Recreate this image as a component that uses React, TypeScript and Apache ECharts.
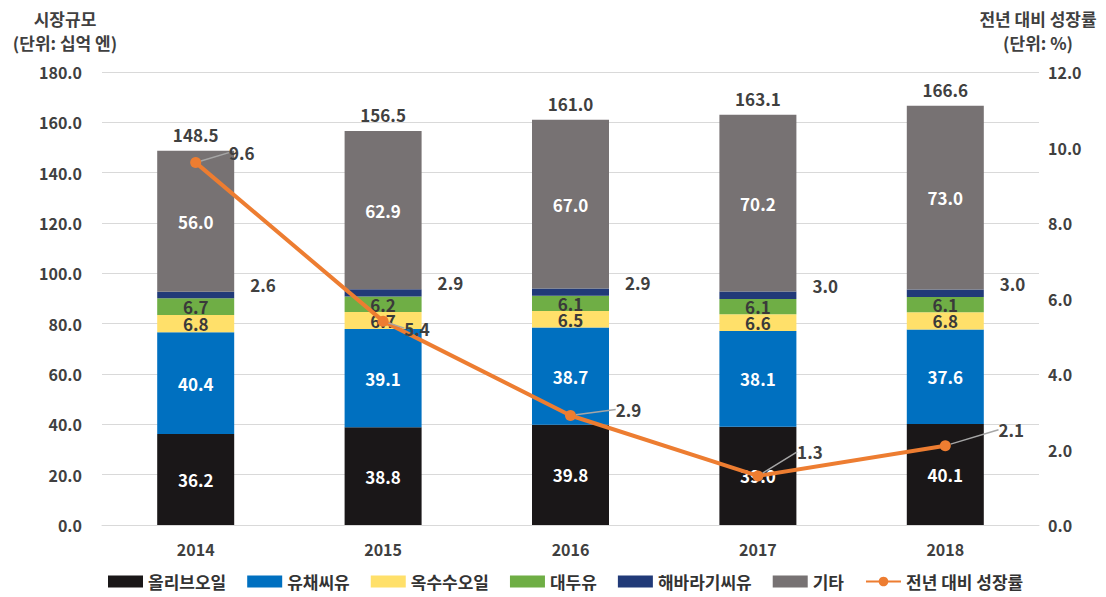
import React, { useEffect, useRef } from "react";
import * as echarts from "echarts";

const years = ["2014", "2015", "2016", "2017", "2018"];
const olive = [36.2, 38.8, 39.8, 39.0, 40.1];
const rapeseed = [40.4, 39.1, 38.7, 38.1, 37.6];
const corn = [6.8, 6.7, 6.5, 6.6, 6.8];
const soybean = [6.7, 6.2, 6.1, 6.1, 6.1];
const sunflower = [2.6, 2.9, 2.9, 3.0, 3.0];
const others = [56.0, 62.9, 67.0, 70.2, 73.0];
const totals = [148.5, 156.5, 161.0, 163.1, 166.6];
const growth = [9.6, 5.4, 2.9, 1.3, 2.1];

const leftTicks = { min: 0, max: 180, interval: 20 };
const rightTicks = { min: 0, max: 12, interval: 2 };

// label offsets (px) for growth-rate labels
const growthLabelShift = [
  [46, -10],
  [34, 7],
  [58, -6],
  [52, -24],
  [66, -16],
];

const FONT = "'Noto Sans CJK KR', 'Noto Sans', sans-serif";

export default function App() {
  const ref = useRef<HTMLDivElement>(null);
  useEffect(() => {
    if (!ref.current) return;
    const chart = echarts.init(ref.current, null, { renderer: "svg" });
    const segLabel = (color: string) => ({
      show: true,
      position: "inside",
      color,
      fontSize: 17,
      fontWeight: "bold",
      fontFamily: FONT,
      formatter: (p: any) => Number(p.value).toFixed(1),
    });
    const barBase = {
      type: "bar",
      stack: "total",
      barWidth: 77,
      yAxisIndex: 0,
    };
    const titleStyle = {
      fontSize: 17,
      fontWeight: "bold",
      color: "#404040",
      lineHeight: 24,
      fontFamily: FONT,
      align: "center",
    };
    chart.setOption({
      animation: false,
      textStyle: { fontFamily: FONT },
      title: [
        {
          text: "시장규모\n(단위: 십억 엔)",
          left: 65,
          top: 6,
          padding: 0,
          textAlign: "center",
          textStyle: titleStyle,
        },
        {
          text: "전년 대비 성장률\n(단위: %)",
          left: 1038,
          top: 6,
          padding: 0,
          textAlign: "center",
          textStyle: titleStyle,
        },
      ],
      grid: { left: 102, right: 67, top: 72, bottom: 72 },
      legend: {
        bottom: 2,
        left: 103,
        itemWidth: 35,
        itemHeight: 12,
        itemGap: 21,
        textStyle: {
          fontSize: 17,
          fontWeight: "bold",
          color: "#333",
          fontFamily: FONT,
        },
        data: [
          { name: "올리브오일", icon: "rect" },
          { name: "유채씨유", icon: "rect" },
          { name: "옥수수오일", icon: "rect" },
          { name: "대두유", icon: "rect" },
          { name: "해바라기씨유", icon: "rect" },
          { name: "기타", icon: "rect" },
          { name: "전년 대비 성장률" },
        ],
      },
      xAxis: {
        type: "category",
        data: years,
        axisLine: { lineStyle: { color: "#d9d9d9" } },
        axisTick: { show: false },
        axisLabel: {
          fontSize: 16,
          fontWeight: "bold",
          color: "#404040",
          margin: 16,
          fontFamily: FONT,
        },
      },
      yAxis: [
        {
          type: "value",
          ...leftTicks,
          axisLine: { show: false },
          axisTick: { show: false },
          splitLine: { lineStyle: { color: "#d9d9d9" } },
          axisLabel: {
            fontSize: 16,
            fontWeight: "bold",
            color: "#404040",
            margin: 20,
            fontFamily: FONT,
            formatter: (v: number) => v.toFixed(1),
          },
        },
        {
          type: "value",
          ...rightTicks,
          axisLine: { show: false },
          axisTick: { show: false },
          splitLine: { show: false },
          axisLabel: {
            fontSize: 16,
            fontWeight: "bold",
            color: "#404040",
            margin: 9,
            fontFamily: FONT,
            formatter: (v: number) => v.toFixed(1),
          },
        },
      ],
      series: [
        {
          ...barBase,
          name: "올리브오일",
          data: olive,
          itemStyle: { color: "#1a1718" },
          label: segLabel("#ffffff"),
        },
        {
          ...barBase,
          name: "유채씨유",
          data: rapeseed,
          itemStyle: { color: "#0070c0" },
          label: segLabel("#ffffff"),
        },
        {
          ...barBase,
          name: "옥수수오일",
          data: corn,
          itemStyle: { color: "#ffe06a" },
          label: segLabel("#3a3a3a"),
        },
        {
          ...barBase,
          name: "대두유",
          data: soybean,
          itemStyle: { color: "#6fae45" },
          label: segLabel("#3a3a3a"),
        },
        {
          ...barBase,
          name: "해바라기씨유",
          data: sunflower,
          itemStyle: { color: "#213a78" },
          label: {
            show: true,
            position: "right",
            distance: 16,
            offset: [0, -10],
            color: "#404040",
            fontSize: 17,
            fontWeight: "bold",
            fontFamily: FONT,
            formatter: (p: any) => Number(p.value).toFixed(1),
          },
        },
        {
          ...barBase,
          name: "기타",
          data: others,
          itemStyle: { color: "#777273" },
          label: segLabel("#ffffff"),
        },
        {
          type: "bar",
          stack: "total",
          barWidth: 77,
          name: "총계",
          data: totals.map(() => 0),
          itemStyle: { color: "transparent" },
          label: {
            show: true,
            position: "top",
            distance: 8,
            color: "#404040",
            fontSize: 17,
            fontWeight: "bold",
            fontFamily: FONT,
            formatter: (p: any) => totals[p.dataIndex].toFixed(1),
          },
          silent: true,
        },
        {
          type: "line",
          name: "전년 대비 성장률",
          yAxisIndex: 1,
          data: growth,
          symbol: "circle",
          symbolSize: 11,
          z: 10,
          lineStyle: { color: "#ed7d31", width: 4 },
          itemStyle: { color: "#ed7d31" },
          label: {
            show: true,
            position: "inside",
            color: "#404040",
            fontSize: 17,
            fontWeight: "bold",
            fontFamily: FONT,
            formatter: (p: any) => Number(p.value).toFixed(1),
          },
          labelLine: {
            show: true,
            lineStyle: { color: "#a6a6a6", width: 1.5 },
          },
          labelLayout: (params: any) => ({
            dx: growthLabelShift[params.dataIndex][0],
            dy: growthLabelShift[params.dataIndex][1],
          }),
        },
      ],
    });
    return () => chart.dispose();
  }, []);
  return (
    <div
      ref={ref}
      style={{ position: "absolute", left: 0, top: 0, width: 1106, height: 597 }}
    />
  );
}
